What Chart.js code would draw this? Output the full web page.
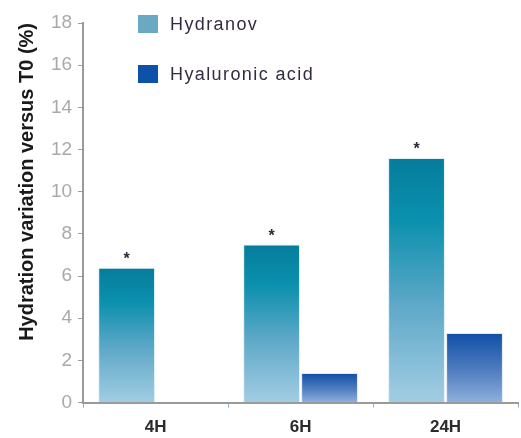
<!DOCTYPE html>
<html>
<head>
<meta charset="utf-8">
<script src="https://cdn.jsdelivr.net/npm/chart.js@4/dist/chart.umd.min.js"></script>
<style>
  html, body { margin: 0; padding: 0; background: #fff; }
  #wrap { width: 521px; height: 438px; }
</style>
</head>
<body>
<div id="wrap"><canvas id="chart" width="521" height="438"></canvas></div>
<script>
const categories = ['4H', '6H', '24H'];
const hydranov = [6.4, 7.5, 11.6];
const hyaluronic = [null, 1.4, 3.3];
const significant = [true, true, true]; // asterisk above Hydranov bars
const yTicks = [0, 2, 4, 6, 8, 10, 12, 14, 16, 18];

// vertical gradient for each bar, from its top down to the base line
function barGradient(stops) {
  return (context) => {
    const chart = context.chart;
    const { ctx, chartArea, scales } = chart;
    if (!chartArea || context.raw == null) return stops[stops.length - 1][1];
    const top = scales.y.getPixelForValue(context.raw);
    const bottom = scales.y.getPixelForValue(0);
    if (!isFinite(top) || top === bottom) return stops[0][1];
    const g = ctx.createLinearGradient(0, top, 0, bottom);
    stops.forEach(([p, c]) => g.addColorStop(p, c));
    return g;
  };
}

const hydranovStops = [[0, '#077c9c'], [0.25, '#0a90ad'], [0.6, '#5ea8c8'], [1, '#a2cde3']];
const hyaluronicStops = [[0, '#0f4fa6'], [0.5, '#4b79bd'], [1, '#8eb0dc']];

// legend drawn inside the plot, stacked vertically
const innerLegend = {
  id: 'innerLegend',
  afterDraw(chart) {
    const ctx = chart.ctx;
    const items = [
      { text: chart.data.datasets[0].label, color: '#6aa8c4', y: 24 },
      { text: chart.data.datasets[1].label, color: '#0b52a8', y: 74 }
    ];
    ctx.save();
    ctx.font = '18px "Liberation Sans", Arial, sans-serif';
    ctx.letterSpacing = '1.4px';
    ctx.textBaseline = 'middle';
    items.forEach(it => {
      ctx.fillStyle = it.color;
      ctx.fillRect(138, it.y - 9, 20, 18);
      ctx.fillStyle = '#352b40';
      ctx.fillText(it.text, 170, it.y + 1);
    });
    ctx.restore();
  }
};

// asterisks above the Hydranov bars
const asterisks = {
  id: 'asterisks',
  afterDatasetsDraw(chart) {
    const ctx = chart.ctx;
    const meta = chart.getDatasetMeta(0);
    ctx.save();
    ctx.font = 'bold 16px "Liberation Sans", Arial, sans-serif';
    ctx.fillStyle = '#2a2a3a';
    ctx.textAlign = 'center';
    ctx.textBaseline = 'middle';
    meta.data.forEach((bar, i) => {
      if (significant[i]) ctx.fillText('*', bar.x, bar.y - 8);
    });
    ctx.restore();
  }
};

new Chart(document.getElementById('chart'), {
  type: 'bar',
  data: {
    labels: categories,
    datasets: [
      {
        label: 'Hydranov',
        data: hydranov,
        backgroundColor: barGradient(hydranovStops),
        borderColor: 'rgba(220,238,246,0.9)',
        borderWidth: 1,
        barPercentage: 0.98,
        categoryPercentage: 0.8
      },
      {
        label: 'Hyaluronic acid',
        data: hyaluronic,
        backgroundColor: barGradient(hyaluronicStops),
        borderColor: 'rgba(220,230,246,0.9)',
        borderWidth: 1,
        barPercentage: 0.98,
        categoryPercentage: 0.8
      }
    ]
  },
  options: {
    responsive: false,
    animation: false,
    layout: { padding: { left: 13, right: 3, top: 23, bottom: -10 } },
    plugins: {
      legend: { display: false },
      tooltip: { enabled: false }
    },
    scales: {
      x: {
        grid: {
          offset: true,
          drawOnChartArea: false,
          tickLength: 5,
          color: '#8fb4d8'
        },
        border: { color: '#9a9a9a', width: 2 },
        ticks: {
          color: '#2b2b2b',
          font: { family: '"Liberation Sans", Arial, sans-serif', size: 17, weight: 'bold' },
          padding: 10
        }
      },
      y: {
        min: 0,
        max: 18,
        afterBuildTicks(axis) { axis.ticks = yTicks.map(v => ({ value: v })); },
        grid: { drawOnChartArea: false, tickLength: 5, color: '#9a9a9a' },
        border: { color: '#9a9a9a', width: 2 },
        ticks: {
          color: '#a9a9a9',
          font: { family: '"Liberation Sans", Arial, sans-serif', size: 19 },
          padding: 6
        },
        title: {
          display: true,
          text: 'Hydration variation versus T0 (%)',
          align: 'end',
          color: '#1a1a1a',
          font: { family: '"Liberation Sans", Arial, sans-serif', size: 20, weight: 'bold' },
          padding: { top: 2, bottom: 6 }
        }
      }
    }
  },
  plugins: [innerLegend, asterisks]
});
</script>
</body>
</html>
